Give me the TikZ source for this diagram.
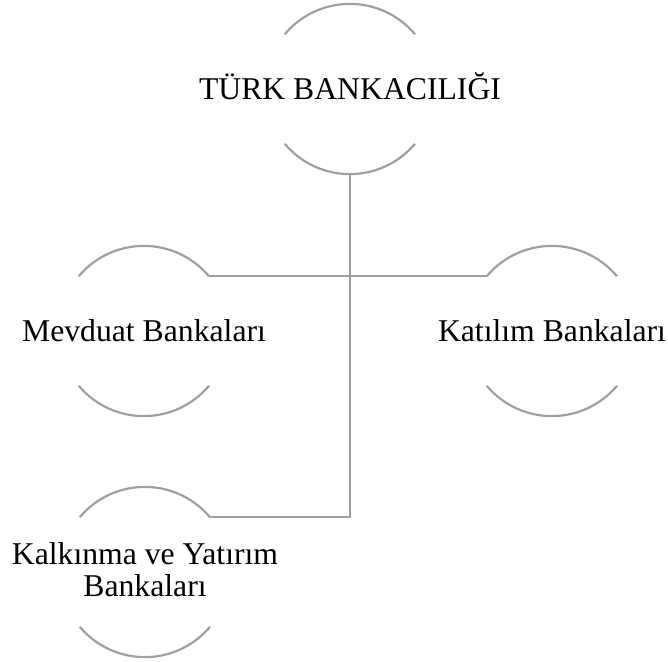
\documentclass[tikz,border=0pt]{standalone}
\usepackage{fontspec}
\setmainfont{Liberation Serif}
\usepackage{tikz}
\usetikzlibrary{positioning,calc}
\usepackage{xcolor}
\definecolor{ringgray}{HTML}{A0A0A0}

\begin{document}
\begin{tikzpicture}[x=1pt, y=1pt, font=\fontsize{31.7}{32}\selectfont,
      ring/.style={circle, minimum size=170pt, inner sep=0pt},
      arcline/.style={draw=ringgray, line width=2.2pt},
      link/.style={draw=ringgray, line width=2.2pt},
      lbl/.style={align=center, inner sep=0pt}]
    \useasboundingbox (0,0) rectangle (668,-661);
    % rings
    \node[ring] (top) at (350,-89) {};
    \node[ring] (mev) at (144,-331) {};
    \node[ring] (kat) at (552,-331) {};
    \node[ring] (kyb) at (145,-572) {};
    \foreach \n in {top,mev,kat,kyb}{
      \draw[arcline] (\n.140) arc[start angle=140, end angle=40, radius=85pt];
      \draw[arcline] (\n.220) arc[start angle=220, end angle=320, radius=85pt];
    }
    % labels
    \node[lbl, anchor=base, yshift=-10.5pt] (topt) at (top) {TÜRK BANKACILIĞI};
    \node[lbl, anchor=base, yshift=-10.5pt] (mevt) at (mev) {Mevduat Bankaları};
    \node[lbl, anchor=base, yshift=-10.5pt] (katt) at (kat) {Katılım Bankaları};
    \node[lbl, yshift=2pt] (kybt) at (kyb) {Kalkınma ve Yatırım\\ Bankaları};
    % connectors
    \draw[link] (top.south) |- (kyb.40);
    \draw[link] (mev.40) -- (kat.140);
\end{tikzpicture}
\end{document}
